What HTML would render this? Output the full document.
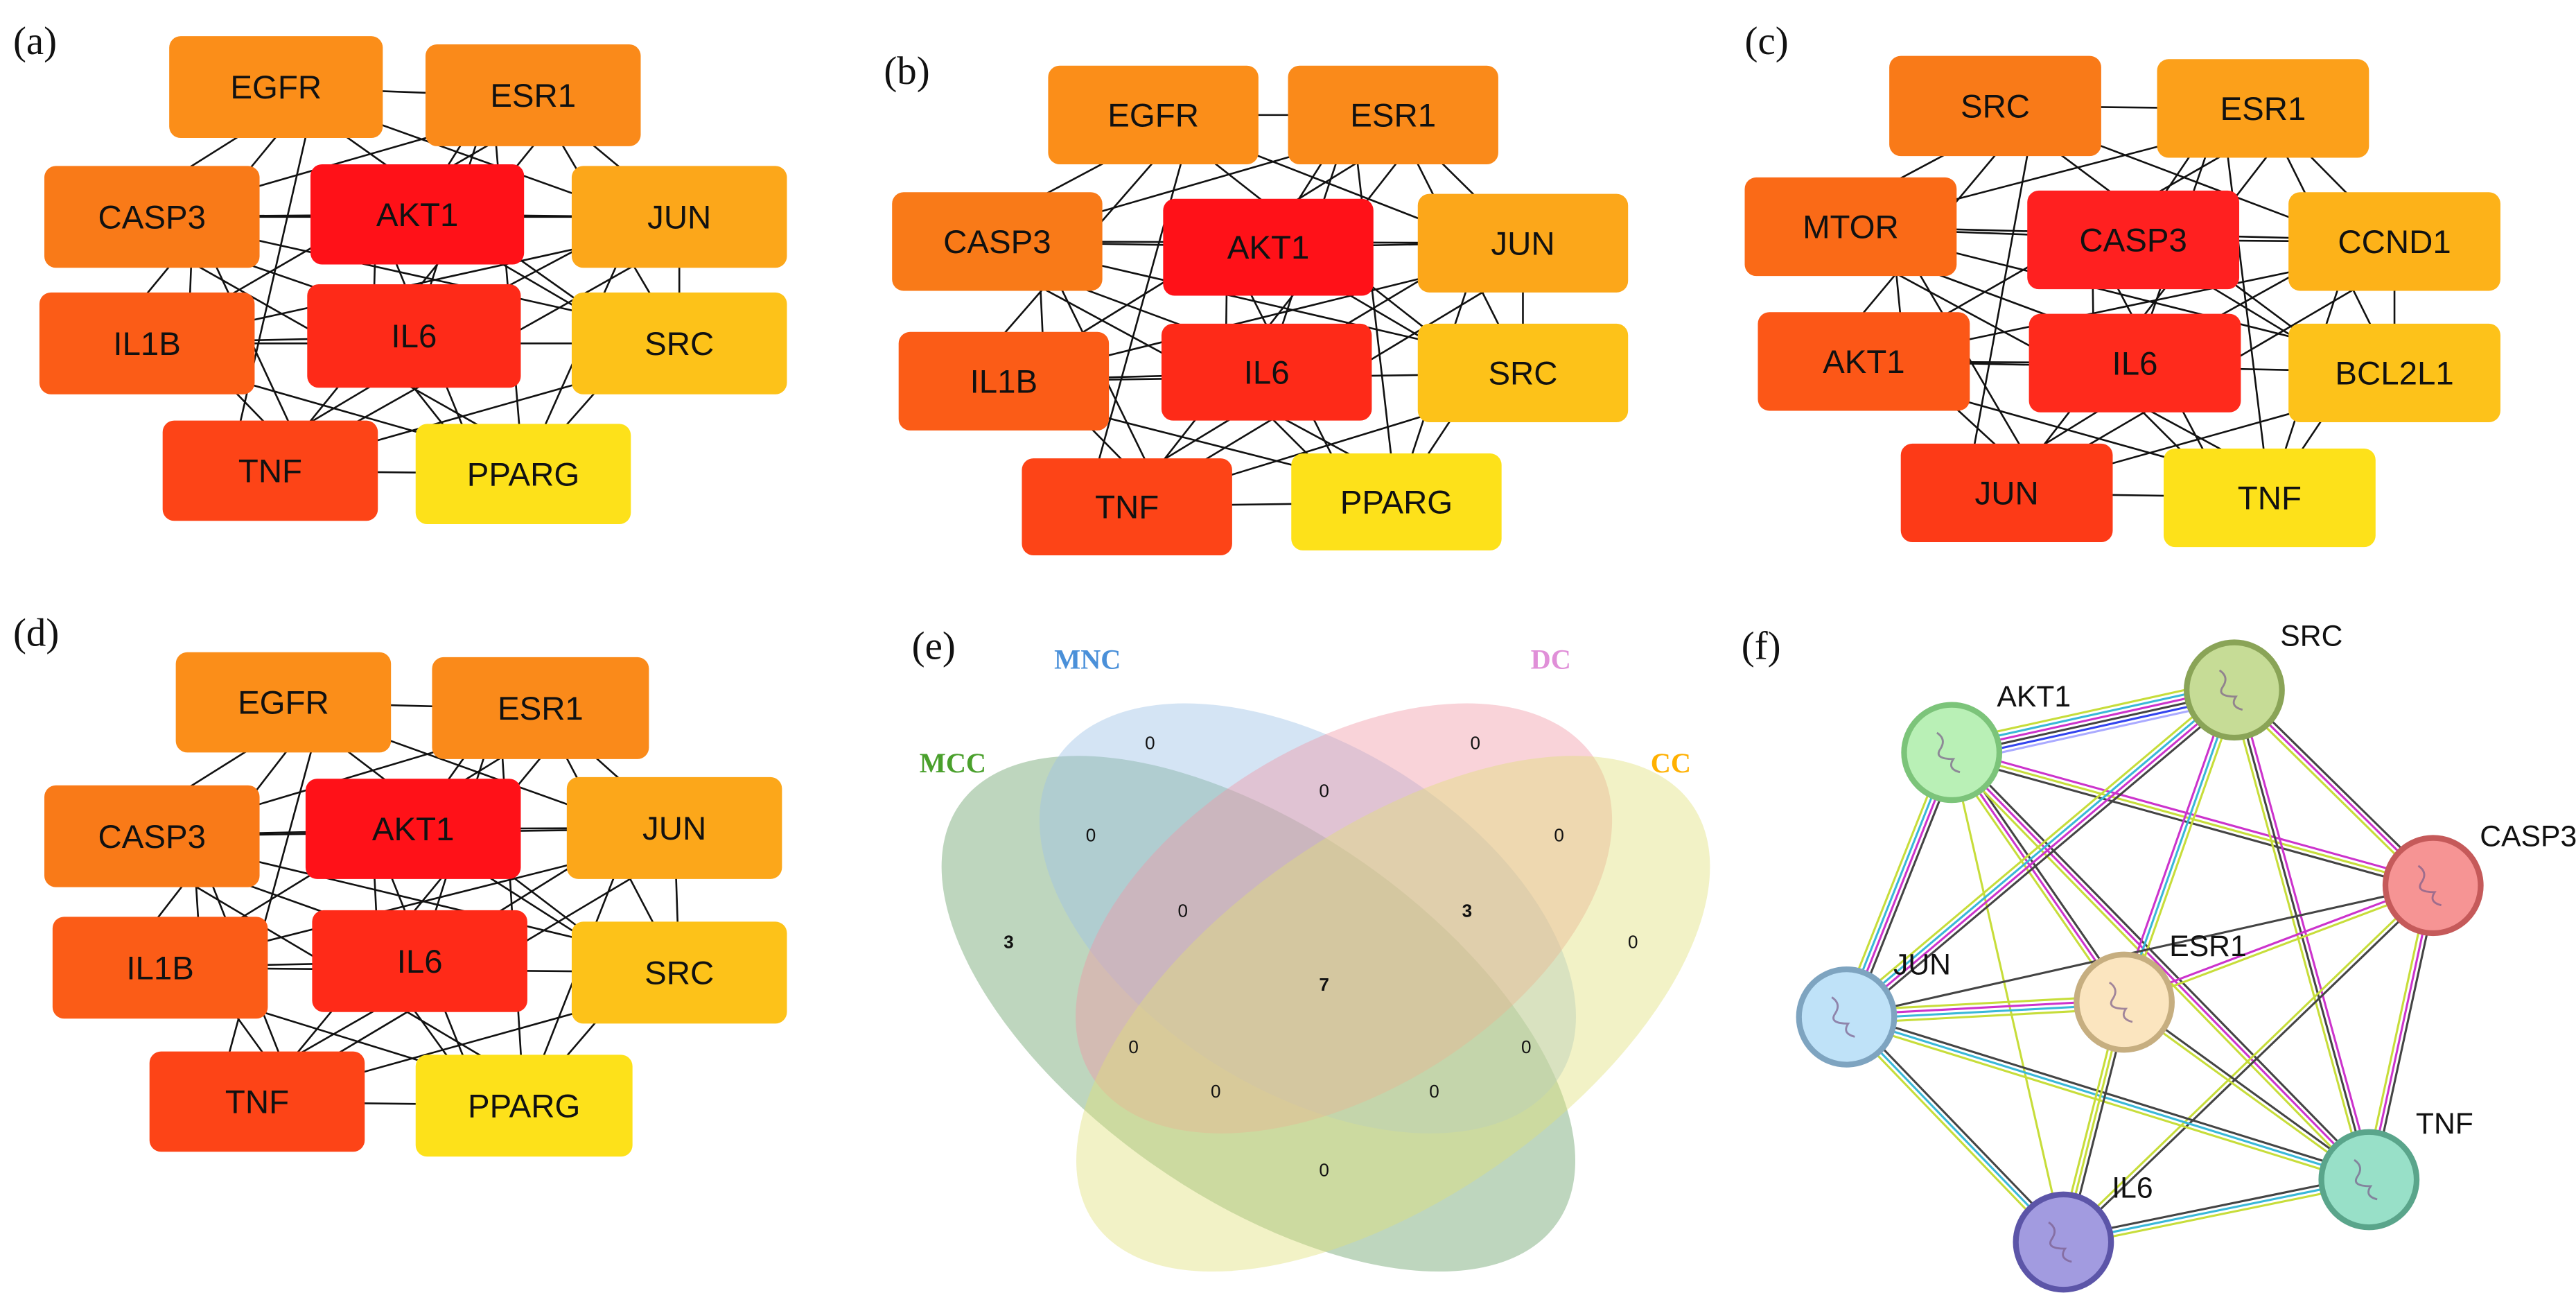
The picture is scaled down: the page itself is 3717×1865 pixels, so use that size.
<!DOCTYPE html>
<html><head><meta charset="utf-8"><style>
html,body{margin:0;padding:0;background:#fff;width:3717px;height:1865px;overflow:hidden}
svg{display:block}
</style></head><body>
<svg id="s" width="3717" height="1865" viewBox="0 0 1568 787" preserveAspectRatio="none" xmlns="http://www.w3.org/2000/svg">
<g id="edges"></g>
<g id="venn">
<ellipse cx="766" cy="617" rx="222" ry="112" transform="rotate(35 766 617)" fill="rgba(120,170,120,0.48)"/>
<ellipse cx="796" cy="559" rx="181" ry="105" transform="rotate(32 796 559)" fill="rgba(160,195,230,0.45)"/>
<ellipse cx="818" cy="559" rx="181" ry="105" transform="rotate(-32 818 559)" fill="rgba(240,150,165,0.42)"/>
<ellipse cx="848" cy="617" rx="222" ry="112" transform="rotate(-35 848 617)" fill="rgba(225,225,120,0.42)"/>
<g font-family="Liberation Sans, sans-serif" font-size="11" text-anchor="middle" fill="#111">
<text x="700" y="456">0</text><text x="898" y="456">0</text><text x="806" y="485">0</text>
<text x="664" y="512">0</text><text x="949" y="512">0</text><text x="614" y="577" font-weight="bold">3</text>
<text x="720" y="558">0</text><text x="893" y="558" font-weight="bold">3</text><text x="994" y="577">0</text>
<text x="806" y="603" font-weight="bold">7</text><text x="690" y="641">0</text><text x="929" y="641">0</text>
<text x="740" y="668">0</text><text x="873" y="668">0</text><text x="806" y="716">0</text>
</g>
<g font-family="Liberation Serif, serif" font-size="17" font-weight="bold" text-anchor="middle">
<text x="662" y="407" fill="#4a90d9">MNC</text><text x="944" y="407" fill="#e08fd8">DC</text>
<text x="580" y="470" fill="#4aa02c">MCC</text><text x="1017" y="470" fill="#ffb000">CC</text>
</g>
</g>
<g id="nodes"></g>
<g font-family="Liberation Serif, serif" font-size="24" fill="#111">
<text x="8" y="33">(a)</text><text x="538" y="51">(b)</text><text x="1062" y="33">(c)</text>
<text x="8" y="393">(d)</text><text x="555" y="401">(e)</text><text x="1060" y="401">(f)</text>
</g>
</svg>
<script>
var NS="http://www.w3.org/2000/svg";
var E=document.getElementById('edges'),N=document.getElementById('nodes');
function el(t,a,p){var e=document.createElementNS(NS,t);for(var k in a)e.setAttribute(k,a[k]);(p||N).appendChild(e);return e;}
var panels=[
[["EGFR",103,22,130,62,"#fb8e19"],["ESR1",259,27,131,62,"#fa8a1a"],["CASP3",27,101,131,62,"#f97a18"],["AKT1",189,100,130,61,"#ff1118"],["JUN",348,101,131,62,"#fca71a"],["IL1B",24,178,131,62,"#fb5c17"],["IL6",187,173,130,63,"#fe2a18"],["SRC",348,178,131,62,"#fdc219"],["TNF",99,256,131,61,"#fd4417"],["PPARG",253,258,131,61,"#fde11a"]],
[["EGFR",638,40,128,60,"#fb8e19"],["ESR1",784,40,128,60,"#fa8a1a"],["CASP3",543,117,128,60,"#f97a18"],["AKT1",708,121,128,59,"#ff1118"],["JUN",863,118,128,60,"#fca71a"],["IL1B",547,202,128,60,"#fb5c17"],["IL6",707,197,128,59,"#fe2a18"],["SRC",863,197,128,60,"#fdc219"],["TNF",622,279,128,59,"#fd4417"],["PPARG",786,276,128,59,"#fde11a"]],
[["SRC",1150,34,129,61,"#f97a18"],["ESR1",1313,36,129,60,"#fca01a"],["MTOR",1062,108,129,60,"#fa6a17"],["CASP3",1234,116,129,60,"#ff2020"],["CCND1",1393,117,129,60,"#fdb219"],["AKT1",1070,190,129,60,"#fc5717"],["IL6",1235,191,129,60,"#ff2a1c"],["BCL2L1",1393,197,129,60,"#fdc21a"],["JUN",1157,270,129,60,"#fd3a17"],["TNF",1317,273,129,60,"#fde11a"]],
[["EGFR",107,397,131,61,"#fb8e19"],["ESR1",263,400,132,62,"#fa8a1a"],["CASP3",27,478,131,62,"#f97a18"],["AKT1",186,474,131,61,"#ff1118"],["JUN",345,473,131,62,"#fca71a"],["IL1B",32,558,131,62,"#fb5c17"],["IL6",190,554,131,62,"#ff2a18"],["SRC",348,561,131,62,"#fdc219"],["TNF",91,640,131,61,"#fd4417"],["PPARG",253,642,132,62,"#fde11a"]]
];
panels.forEach(function(P){
 for(var i=0;i<P.length;i++)for(var j=i+1;j<P.length;j++){
  if((i*7+j*3)%9==0)continue;
  var a=P[i],b=P[j];
  el('line',{x1:a[1]+a[3]/2+((j%3)-1)*25,y1:a[2]+a[4]/2,x2:b[1]+b[3]/2+((i%3)-1)*25,y2:b[2]+b[4]/2,stroke:"#111","stroke-width":1.1},E);
 }
 P.forEach(function(n){
  el('rect',{x:n[1],y:n[2],width:n[3],height:n[4],rx:7,fill:n[5]});
  var t=el('text',{x:n[1]+n[3]/2,y:n[2]+n[4]/2+7,"text-anchor":"middle","font-family":"Liberation Sans, sans-serif","font-size":20,fill:"#111"});
  t.textContent=n[0];
 });
});
var F={AKT1:[1188,458,"#b9f0b6","#7cc47a"],SRC:[1360,420,"#c6dc96","#8aa457"],CASP3:[1481,539,"#f69494","#c55a5a"],JUN:[1124,619,"#bfe2f8","#7ea4c0"],ESR1:[1293,610,"#fbe5bf","#c6ae80"],TNF:[1442,718,"#98e0c8","#5aa58b"],IL6:[1256,756,"#a29be0","#5c55a8"]};
var FE=[["AKT1","SRC",["#c7dd3a","#39b8d8","#cc33cc","#444","#3344ee","#aaaaff"]],["AKT1","CASP3",["#cc33cc","#c7dd3a","#444"]],["AKT1","JUN",["#444","#cc33cc","#39b8d8","#c7dd3a"]],["AKT1","ESR1",["#444","#cc33cc","#c7dd3a"]],["AKT1","TNF",["#444","#cc33cc","#c7dd3a"]],["AKT1","IL6",["#c7dd3a"]],["SRC","CASP3",["#444","#cc33cc","#c7dd3a"]],["SRC","JUN",["#444","#cc33cc","#39b8d8","#c7dd3a"]],["SRC","ESR1",["#c7dd3a","#39b8d8","#cc33cc"]],["SRC","TNF",["#cc33cc","#444","#c7dd3a"]],["CASP3","ESR1",["#c7dd3a","#cc33cc"]],["CASP3","TNF",["#444","#cc33cc","#c7dd3a"]],["CASP3","IL6",["#444","#c7dd3a"]],["CASP3","JUN",["#444"]],["JUN","ESR1",["#c7dd3a","#cc33cc","#39b8d8","#c7dd3a"]],["JUN","TNF",["#444","#39b8d8","#c7dd3a"]],["JUN","IL6",["#444","#39b8d8","#c7dd3a"]],["ESR1","TNF",["#444","#c7dd3a"]],["ESR1","IL6",["#444","#c7dd3a","#c7dd3a"]],["IL6","TNF",["#444","#39b8d8","#c7dd3a"]]];
FE.forEach(function(e){
 var a=F[e[0]],b=F[e[1]],dx=b[0]-a[0],dy=b[1]-a[1],L=Math.hypot(dx,dy),nx=-dy/L,ny=dx/L,c=e[2],k=c.length;
 c.forEach(function(col,i){var o=(i-(k-1)/2)*2.6;
  el('line',{x1:a[0]+nx*o,y1:a[1]+ny*o,x2:b[0]+nx*o,y2:b[1]+ny*o,stroke:col,"stroke-width":1.3});});
});
var lab={AKT1:[1238,430],SRC:[1407,393],CASP3:[1539,515],JUN:[1170,593],ESR1:[1344,582],TNF:[1488,690],IL6:[1298,729]};
for(var k in F){var n=F[k];
 el('circle',{cx:n[0],cy:n[1],r:29,fill:n[2],stroke:n[3],"stroke-width":3.5});
 el('path',{d:"M"+(n[0]-9)+" "+(n[1]-12)+"q6 4 2 10t8 6q-4 6 4 8",fill:"none",stroke:"#7a5c8a","stroke-width":1.2,opacity:0.7});
 var t=el('text',{x:lab[k][0],y:lab[k][1],"text-anchor":"middle","font-family":"Liberation Sans, sans-serif","font-size":18,fill:"#111"});t.textContent=k;}
</script>
</body></html>
